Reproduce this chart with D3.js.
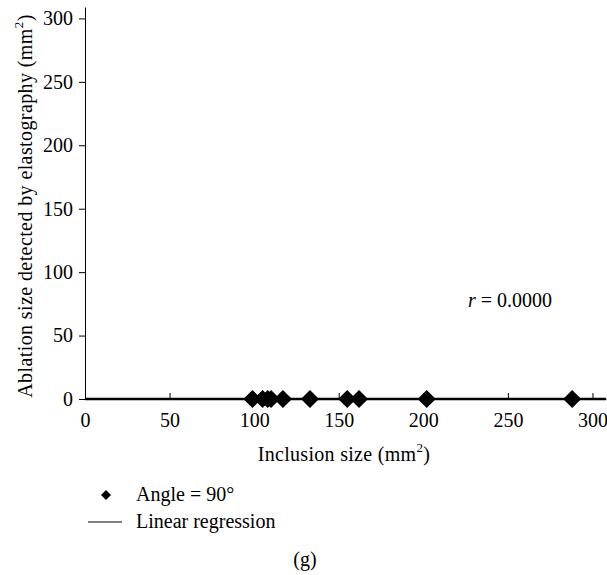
<!DOCTYPE html>
<html>
<head>
<meta charset="utf-8">
<script src="https://cdn.jsdelivr.net/npm/d3@7"></script>
<style>
  html, body { margin: 0; padding: 0; background: #fff; }
  svg { display: block; }
</style>
</head>
<body>
<svg id="chart" width="607" height="575"></svg>
<script>
// Inclusion size (mm²) for each measured lesion at a 90° probe angle
const inclusionSize = [99, 105, 108, 110, 117, 133, 155, 162, 202, 288];
// Ablation size detected by elastography (mm²)
const ablationSize = [0, 0, 0, 0, 0, 0, 0, 0, 0, 0];
// Regression line endpoints (x) and fitted values
const regressionX = [0, 308];
const regressionY = [0, 0];
const xTicks = [0, 50, 100, 150, 200, 250, 300];
const yTicks = [0, 50, 100, 150, 200, 250, 300];
const correlationLabel = "0.0000";

const FONT = '"Liberation Serif"';
const FS = 20;

const svg = d3.select("#chart");
const margin = { left: 85, right: 1, top: 7, bottom: 176 };
const W = 607, H = 575;

const x = d3.scaleLinear().domain([0, 308]).range([margin.left, W - margin.right]);
const y = d3.scaleLinear().domain([0, 309]).range([H - margin.bottom, margin.top]);

function styleText(sel) {
  return sel.style("font-family", FONT).attr("font-size", FS).attr("fill", "#000");
}

// X axis: ticks point inward
const xAxis = svg.append("g")
  .attr("transform", `translate(0,${y(0)})`)
  .call(d3.axisBottom(x).tickValues(xTicks).tickSize(-6).tickPadding(14).tickSizeOuter(0));
xAxis.attr("font-family", null).attr("font-size", null);
xAxis.select(".domain").attr("stroke", "#000").attr("stroke-width", 1);
xAxis.selectAll(".tick line").attr("stroke", "#000");
styleText(xAxis.selectAll(".tick text"));

// Y axis: ticks point outward
const yAxis = svg.append("g")
  .attr("transform", `translate(${x(0)},0)`)
  .call(d3.axisLeft(y).tickValues(yTicks).tickSize(6).tickPadding(6).tickSizeOuter(0));
yAxis.attr("font-family", null).attr("font-size", null);
yAxis.select(".domain").attr("stroke", "#000").attr("stroke-width", 1);
yAxis.selectAll(".tick line").attr("stroke", "#000");
styleText(yAxis.selectAll(".tick text"));

// Linear regression line
const line = d3.line().x((d, i) => x(regressionX[i])).y(d => y(d));
svg.append("path")
  .datum(regressionY)
  .attr("d", line)
  .attr("fill", "none")
  .attr("stroke", "#000")
  .attr("stroke-width", 2.3);

// Data points as diamonds
const diamond = d3.symbol().type(d3.symbolSquare).size(165);
svg.append("g").selectAll("path")
  .data(inclusionSize)
  .join("path")
  .attr("d", diamond)
  .attr("transform", (d, i) => `translate(${x(d)},${y(ablationSize[i])}) rotate(45)`)
  .attr("fill", "#000");

// Axis titles
const xt = styleText(svg.append("text"))
  .attr("x", 344)
  .attr("y", 461)
  .attr("text-anchor", "middle")
  .style("letter-spacing", "0.3px");
xt.append("tspan").text("Inclusion size (mm");
xt.append("tspan").attr("font-size", 13).attr("dy", -9).text("2");
xt.append("tspan").attr("dy", 9).text(")");

const yt = styleText(svg.append("text"))
  .attr("transform", `translate(32,206) rotate(-90)`)
  .attr("text-anchor", "middle")
  .style("letter-spacing", "0.4px");
yt.append("tspan").text("Ablation size detected by elastography (mm");
yt.append("tspan").attr("font-size", 13).attr("dy", -9).text("2");
yt.append("tspan").attr("dy", 9).text(")");

// Correlation coefficient
const rt = styleText(svg.append("text"))
  .attr("x", 468)
  .attr("y", 307);
rt.append("tspan").style("font-style", "italic").text("r");
rt.append("tspan").text(" = " + correlationLabel);

// Legend
const legend = svg.append("g");
legend.append("path")
  .attr("d", d3.symbol().type(d3.symbolSquare).size(50)())
  .attr("transform", "translate(106,495) rotate(45)")
  .attr("fill", "#000");
styleText(legend.append("text")).attr("x", 136).attr("y", 501).text("Angle = 90°");
legend.append("line")
  .attr("x1", 88).attr("x2", 122).attr("y1", 522).attr("y2", 522)
  .attr("stroke", "#000").attr("stroke-width", 1.2);
styleText(legend.append("text")).attr("x", 136).attr("y", 528).text("Linear regression");

// Panel label
styleText(svg.append("text"))
  .attr("x", 305)
  .attr("y", 566)
  .attr("text-anchor", "middle")
  .text("(g)");
</script>
</body>
</html>
